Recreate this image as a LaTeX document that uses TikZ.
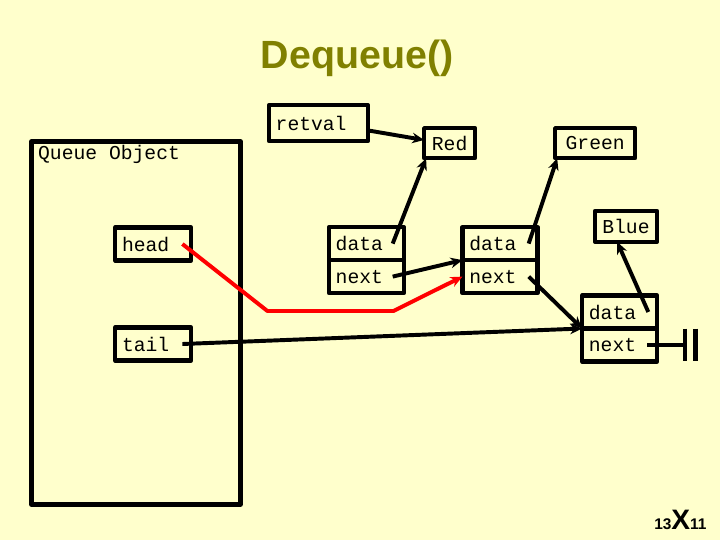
\documentclass[tikz,border=0pt]{standalone}
\usepackage{fontspec}
\setsansfont{Liberation Sans}
\setmonofont{Liberation Mono}
\usetikzlibrary{arrows.meta,positioning}
\definecolor{slidebg}{RGB}{255,255,204}
\definecolor{titleolive}{RGB}{128,128,0}
\newcommand{\cellfont}{\ttfamily\fontsize{14}{16}\selectfont}
\tikzset{cell/.style={draw,line width=3pt,outer sep=0pt,minimum width=1.875cm,minimum height=0.825cm,inner xsep=0.17cm,text width=1.535cm,align=left},
  valbox/.style={draw,line width=3pt,outer sep=0pt,minimum height=0.75cm},
  ptr/.style={line width=2.8pt,->},
  redptr/.style={ptr,red}}

\begin{document}
\begin{tikzpicture}[>={Stealth[length=8.5pt,width=7.5pt]},line join=round,font=\cellfont]
\useasboundingbox[fill=slidebg] (0,0) rectangle (18,-13.5);
% --- title
\node[font=\sffamily\bfseries\fontsize{28}{30}\selectfont,text=titleolive] (title) at (8.93,-1.45) {Dequeue()};
% --- queue object, head and tail
\node[draw,line width=3pt,outer sep=0pt,minimum width=5.225cm,minimum height=9.075cm] (qobj) at (3.4,-8.075) {};
\node[anchor=base west,inner sep=0pt] (qlabel) at ([xshift=0.16cm,yshift=-0.44cm]qobj.north west) {Queue Object};
\node[cell,text width=1.56cm] (head) at (3.83,-6.1) {head};
\node[cell,text width=1.56cm] (tail) at (3.83,-8.6) {tail};
% --- retval and the values
\node[cell,text width=2.135cm,minimum height=0.9cm] (retval) at (7.96,-3.08) {retval};
\node[valbox,minimum width=1.275cm] (red) at (11.24,-3.58) {Red};
\node[valbox,minimum width=2cm] (green) at (14.88,-3.58) {Green};
\node[valbox,minimum width=1.55cm,minimum height=0.775cm] (blue) at (15.65,-5.66) {Blue};
% --- list nodes: data over next
\node[cell] (d1) at (9.16,-6.09) {data}; \node[cell,below=0pt of d1] (n1) {next};
\node[cell] (d2) at (12.5,-6.09) {data}; \node[cell,below=0pt of d2] (n2) {next};
\node[cell] (d3) at (15.49,-7.8) {data}; \node[cell,below=0pt of d3] (n3) {next};
% --- pointers
\draw[ptr] ([yshift=-0.18cm]retval.east) -- ([yshift=0.08cm]red.west);
\draw[ptr] ([xshift=-0.28cm]d1.east) -- ([xshift=0.05cm]red.south west);
\draw[ptr] ([xshift=-0.22cm]d2.east) -- ([xshift=0.05cm]green.south west);
\draw[ptr] ([xshift=-0.22cm]d3.east) -- ([xshift=-0.22cm]blue.south);
\draw[ptr] ([xshift=-0.28cm]n1.east) -- (n2.north west);
\draw[ptr] ([xshift=-0.22cm]n2.east) -- (n3.north west);
\draw[ptr] ([xshift=-0.22cm]tail.east) -- (n3.north west);
\draw[redptr] ([xshift=-0.22cm]head.east) -- ++(2.125,-1.675) -- ++(3.15,0) -- (n2.west);
% --- end of list
\draw[line width=2.8pt] ([xshift=-0.25cm]n3.east) -- ++(0.94,0) coordinate (nil);
\draw[line width=3pt] ([yshift=0.41cm]nil) -- ([yshift=-0.41cm]nil) ([shift={(0.27,0.41)}]nil) -- ([shift={(0.27,-0.41)}]nil);
% --- slide number
\node[anchor=base west,inner sep=0pt,font=\sffamily\bfseries] (pgno) at (16.35,-13.225) {{\fontsize{11}{11}\selectfont 13}{\fontsize{20}{20}\selectfont X}{\fontsize{11}{11}\selectfont 11}};
\end{tikzpicture}
\end{document}
